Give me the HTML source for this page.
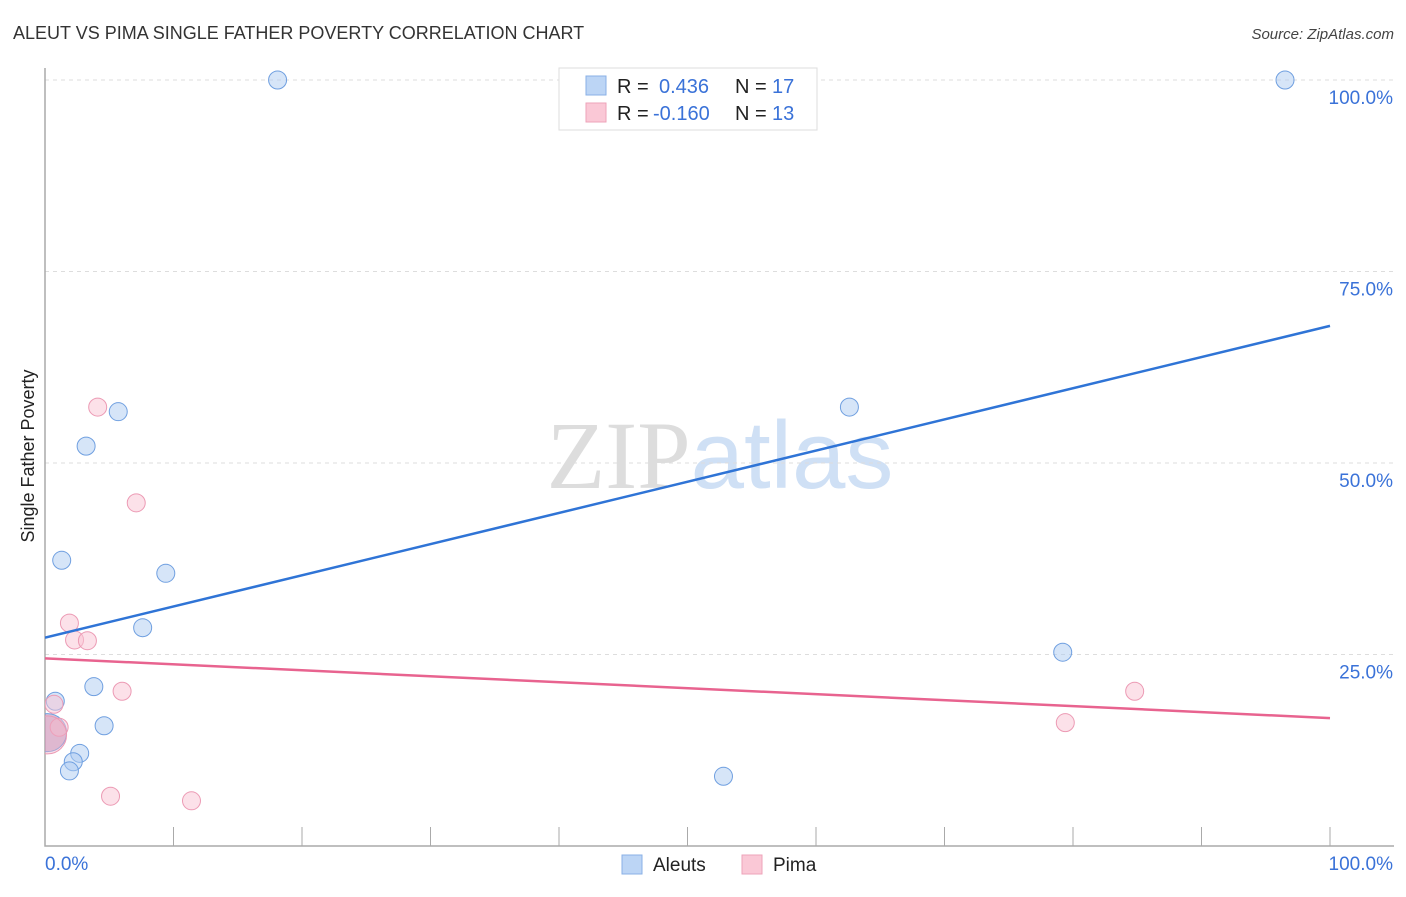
<!DOCTYPE html>
<html><head><meta charset="utf-8">
<style>
body{margin:0;background:#fff;font-family:"Liberation Sans",sans-serif;}
svg text{font-family:"Liberation Sans",sans-serif;}
</style></head>
<body>
<svg id="chart" width="1406" height="892" xmlns="http://www.w3.org/2000/svg">
<defs><clipPath id="plotclip"><rect x="45" y="60" width="1360" height="786"/></clipPath></defs>
<text x="13" y="39" font-size="18" fill="#333">ALEUT VS PIMA SINGLE FATHER POVERTY CORRELATION CHART</text>
<text x="1394" y="39" font-size="15" fill="#444" text-anchor="end" font-style="italic">Source: ZipAtlas.com</text>
<text x="720" y="488" font-size="96" text-anchor="middle"><tspan fill="#ddd" font-family="Liberation Serif">ZIP</tspan><tspan fill="#cfe0f5">atlas</tspan></text>
<text transform="translate(34,456) rotate(-90)" font-size="18" fill="#222" text-anchor="middle">Single Father Poverty</text>
<g id="grid"></g>
<g id="marks" clip-path="url(#plotclip)"></g>
<g>
<rect x="559" y="68" width="258" height="62" fill="#fff" stroke="#ddd"/>
<rect x="586" y="76" width="20" height="19" fill="#bcd5f5" stroke="#8ab0e6"/>
<text x="617" y="93" font-size="20" fill="#222">R =</text><text x="659" y="93" font-size="20" fill="#3a72d8">0.436</text>
<text x="735" y="93" font-size="20" fill="#222">N =</text><text x="772" y="93" font-size="20" fill="#3a72d8">17</text>
<rect x="586" y="103" width="20" height="19" fill="#fac8d6" stroke="#eea3b9"/>
<text x="617" y="120" font-size="20" fill="#222">R =</text><text x="653" y="120" font-size="20" fill="#3a72d8">-0.160</text>
<text x="735" y="120" font-size="20" fill="#222">N =</text><text x="772" y="120" font-size="20" fill="#3a72d8">13</text>
</g>
<g>
<rect x="622" y="855" width="20" height="19" fill="#bcd5f5" stroke="#8ab0e6"/>
<text x="653" y="871" font-size="19" fill="#222">Aleuts</text>
<rect x="742" y="855" width="20" height="19" fill="#fac8d6" stroke="#eea3b9"/>
<text x="773" y="871" font-size="19" fill="#222">Pima</text>
</g>
</svg>
<script>
const aleutX=[18.1,96.5,5.7,3.2,62.6,1.3,9.4,7.6,79.2,3.8,0.8,4.6,2.7,2.2,1.9,52.8,0.2];
const aleutY=[100,100,56.7,52.2,57.3,37.3,35.6,28.5,25.3,20.8,18.9,15.7,12.1,11.0,9.8,9.1,14.8];
const pimaX=[4.1,7.1,1.9,2.3,3.3,6.0,0.7,1.1,5.1,11.4,79.4,84.8,0.2];
const pimaY=[57.3,44.8,29.1,26.9,26.8,20.2,18.5,15.5,6.5,5.9,16.1,20.2,14.5];
const aleutTrend=[27.2,67.9];
const pimaTrend=[24.5,16.7];
const yTicks=[25,50,75,100];
const yTickLabels=["25.0%","50.0%","75.0%","100.0%"];
const NS="http://www.w3.org/2000/svg";
const X=v=>45+v*12.85, Y=v=>846-v*7.66;
const grid=document.getElementById('grid'), marks=document.getElementById('marks');
function mk(tag,attrs,parent){const e=document.createElementNS(NS,tag);for(const k in attrs)e.setAttribute(k,attrs[k]);parent.appendChild(e);return e;}
yTicks.forEach((t,i)=>{
  const l=mk('line',{x1:45,x2:1394,y1:Y(t),y2:Y(t),stroke:'#ddd','stroke-dasharray':'4,4'},grid);
  
  
  const tx=mk('text',{x:1393,y:Y(t)+24,'font-size':19,fill:'#3a72d8','text-anchor':'end'},grid);
  tx.textContent=yTickLabels[i];
  
  
});
const ax=mk('path',{d:'M45,68 V846 H1394',fill:'none',stroke:'#aaa','stroke-width':1.5},grid);


for(let i=1;i<=10;i++){
  const t=mk('line',{x1:X(i*10),x2:X(i*10),y1:827,y2:846,stroke:'#aaa'},grid);
  
  
}
const xl0=mk('text',{x:45,y:870,'font-size':19,fill:'#3a72d8'},grid);xl0.textContent='0.0%';


const xl1=mk('text',{x:1393,y:870,'font-size':19,fill:'#3a72d8','text-anchor':'end'},grid);xl1.textContent='100.0%';


function pts(xs,ys,fill,stroke,name){
  xs.forEach((x,i)=>{
    const big=i===xs.length-1;
    const c=mk('circle',{cx:X(x),cy:Y(ys[i]),r:big?19:9,fill:big?(name==='aleut-point'?'rgba(160,120,170,0.45)':'rgba(240,170,195,0.4)'):fill,stroke:stroke,'stroke-width':1},marks);
    
    
  });
}
pts(aleutX,aleutY,'rgba(173,203,242,0.5)','#6f9fe0','aleut-point');
pts(pimaX,pimaY,'rgba(250,195,212,0.5)','#ec9ab4','pima-point');
const l1=mk('line',{x1:X(0),y1:Y(aleutTrend[0]),x2:X(100),y2:Y(aleutTrend[1]),stroke:'#2f74d6','stroke-width':2.5},marks);


const l2=mk('line',{x1:X(0),y1:Y(pimaTrend[0]),x2:X(100),y2:Y(pimaTrend[1]),stroke:'#e8638f','stroke-width':2.5},marks);


</script>
</body></html>
